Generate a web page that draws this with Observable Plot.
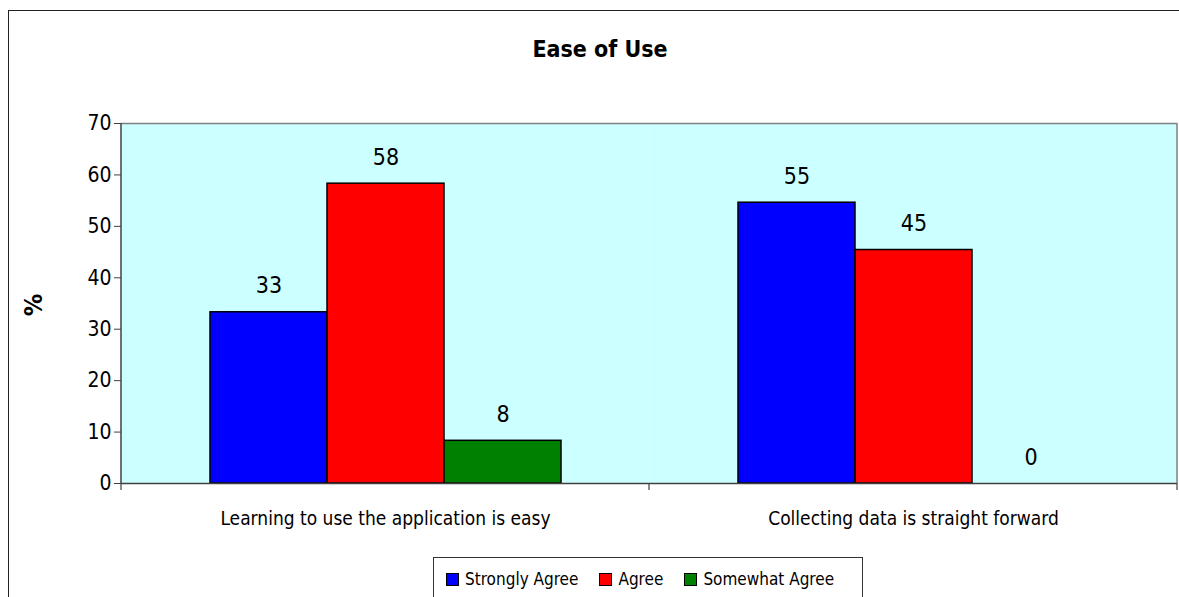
<!DOCTYPE html>
<html><head><meta charset="utf-8">
<script src="https://cdn.jsdelivr.net/npm/d3@7"></script>
<script src="https://cdn.jsdelivr.net/npm/@observablehq/plot@0.6"></script>
<style>
body{margin:0;background:#fff;}
#wrap{position:relative;width:1179px;height:597px;overflow:hidden;font-family:"DejaVu Sans Condensed","DejaVu Sans",sans-serif;color:#000;}
#border{position:absolute;left:8px;top:10px;width:1300px;height:700px;border:1.5px solid #222;box-sizing:border-box;}
#title{position:absolute;left:0;width:1200px;top:38px;line-height:23px;text-align:center;font-weight:bold;font-size:23px;}
#ylab{position:absolute;left:33px;top:305px;font-weight:bold;font-size:25px;transform:translate(-50%,-50%) rotate(-90deg);}
#chart{position:absolute;left:0;top:80px;}
#legend{position:absolute;left:433px;top:557px;width:430px;height:80px;border:1px solid #333;box-sizing:border-box;background:#fff;overflow:hidden;}
#legend .items{display:flex;flex-wrap:nowrap;align-items:center;padding-left:12px;margin-top:11px;font-size:17px;white-space:nowrap;}
#legend .item{display:flex;align-items:center;margin-right:21px;flex-shrink:0;white-space:nowrap;}
#legend .sw{width:11px;height:11px;border:1.2px solid #000;margin-right:6px;flex-shrink:0;}
</style></head>
<body>
<div id="wrap">
  <div id="border"></div>
  <div id="title"></div>
  <div id="ylab"></div>
  <div id="chart"></div>
  <div id="legend"><div class="items"></div></div>
</div>
<script>
const title = "Ease of Use";
const yLabel = "%";
const categories = ["Learning to use the application is easy", "Collecting data is straight forward"];
const series = ["Strongly Agree", "Agree", "Somewhat Agree"];
const seriesColors = ["#0000FF", "#FF0000", "#008000"];
const stronglyAgree = [33.3, 54.6];
const agree = [58.3, 45.4];
const somewhatAgree = [8.3, 0];
const yTicks = [0, 10, 20, 30, 40, 50, 60, 70];

const seriesValues = [stronglyAgree, agree, somewhatAgree];
const data = [];
categories.forEach((c, ci) => series.forEach((s, si) => data.push({category: c, series: s, value: seriesValues[si][ci]})));

document.getElementById("title").textContent = title;
document.getElementById("ylab").textContent = yLabel;

const W = 1179, H = 517;
const plot = Plot.plot({
  width: W, height: H,
  marginLeft: 121, marginRight: 2, marginTop: 43, marginBottom: 114,
  style: {fontFamily: '"DejaVu Sans Condensed","DejaVu Sans",sans-serif', fontSize: "19px", color: "#000", background: "transparent"},
  fx: {domain: categories, padding: 0, label: null},
  x: {domain: series, paddingInner: 0, paddingOuter: 0.75, axis: null},
  y: {domain: [0, 70], label: null},
  color: {domain: series, range: seriesColors},
  marks: [
    Plot.frame({fill: "#CCFFFF", stroke: "none"}),
    Plot.ruleY([70], {stroke: "#808080", strokeWidth: 1.5}),
    Plot.barY(data, {fx: "category", x: "series", y: "value", fill: "series", stroke: "#000", strokeWidth: 1.5}),
    Plot.text(data, {fx: "category", x: "series", y: "value", text: d => String(Math.round(d.value)), dy: -19, lineAnchor: "bottom", fontSize: 23, fill: "#000"}),
    Plot.ruleY([0], {stroke: "#404040", strokeWidth: 1.5}),
    Plot.axisY({ticks: yTicks, tickSize: 7, tickPadding: 3, fontSize: 21, label: null, stroke: "#404040"}),
    Plot.axisFx({anchor: "bottom", tickSize: 0, tickPadding: 28, fontSize: 19, label: null})
  ]
});
document.getElementById("chart").appendChild(plot);

// axis lines and category boundary ticks from the plot's own scales
const fxs = plot.scale("fx"), ys = plot.scale("y");
const band = d3.scaleBand().domain(fxs.domain).range(fxs.range).paddingInner(fxs.paddingInner || 0).paddingOuter(fxs.paddingOuter || 0);
const y0 = Math.max(...ys.range), y1 = Math.min(...ys.range);
const svg = d3.select(plot.tagName.toLowerCase() === "svg" ? plot : plot.querySelector("svg"));
const g = svg.append("g");
const [r0, r1] = fxs.range;
g.append("line").attr("x1", r0).attr("x2", r0).attr("y1", y1).attr("y2", y0).attr("stroke", "#404040").attr("stroke-width", 1.5);
g.append("line").attr("x1", r1).attr("x2", r1).attr("y1", y1).attr("y2", y0).attr("stroke", "#808080").attr("stroke-width", 1.5);
const bounds = new Set();
categories.forEach(c => { bounds.add(band(c)); bounds.add(band(c) + band.bandwidth()); });
for (const b of bounds) g.append("line").attr("x1", b).attr("x2", b).attr("y1", y0).attr("y2", y0 + 7).attr("stroke", "#404040").attr("stroke-width", 1.2);

const items = d3.select("#legend .items");
series.forEach((s, i) => {
  const it = items.append("div").attr("class", "item");
  it.append("div").attr("class", "sw").style("background", seriesColors[i]);
  it.append("span").text(s);
});
</script>
</body></html>
